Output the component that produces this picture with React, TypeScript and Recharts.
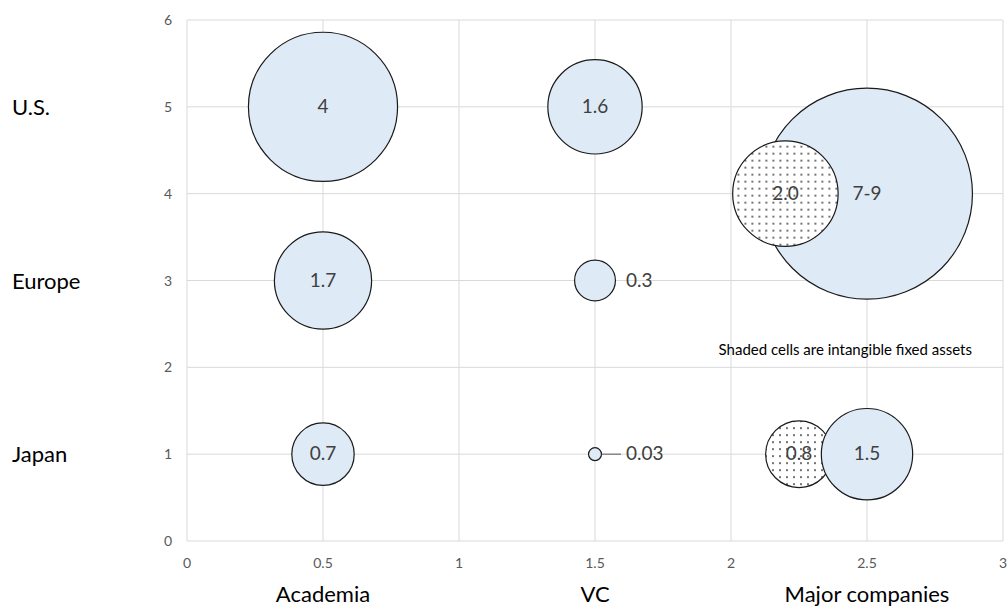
import React from "react";
import {
  ScatterChart,
  Scatter,
  XAxis,
  YAxis,
  ZAxis,
  CartesianGrid,
  LabelList,
  ReferenceDot,
} from "recharts";

const xTicks = [0, 0.5, 1, 1.5, 2, 2.5, 3];
const yTicks = [0, 1, 2, 3, 4, 5, 6];

const sectors = ["Academia", "VC", "Major companies"];
const sectorX = [0.5, 1.5, 2.5];
const regions = ["U.S.", "Europe", "Japan"];
const regionY = [5, 3, 1];

// U.S. + Europe major companies together (7-9, drawn as 8)
const combinedBubbles = [{ x: 2.5, y: 4, z: 8, label: "7-9" }];

// shaded = intangible fixed assets
const intangibleBubbles = [
  { x: 2.2, y: 4, z: 2.0, label: "2.0" },
  { x: 2.25, y: 1, z: 0.8, label: "0.8" },
];

const tangibleBubbles = [
  { x: 0.5, y: 5, z: 4, label: "4" },
  { x: 1.5, y: 5, z: 1.6, label: "1.6" },
  { x: 0.5, y: 3, z: 1.7, label: "1.7" },
  { x: 1.5, y: 3, z: 0.3, label: "0.3" },
  { x: 0.5, y: 1, z: 0.7, label: "0.7" },
  { x: 1.5, y: 1, z: 0.03, label: "0.03" },
  { x: 2.5, y: 1, z: 1.5, label: "1.5" },
];

const note = { x: 2.42, y: 2.2, text: "Shaded cells are intangible fixed assets" };

const FILL = "#deebf7";
const STROKE = "#1a1a1a";

const BubbleLabel = (props: any) => {
  const vb = props.viewBox || props;
  const { x, y, width, height } = vb;
  const cx = x + width / 2;
  const cy = y + height / 2;
  const r = width / 2;
  if (r < 25) {
    const tx = cx + 31;
    return (
      <g>
        {r < 12 && (
          <line x1={cx + r} y1={cy} x2={tx - 5} y2={cy} stroke="#595959" strokeWidth={1} />
        )}
        <text x={tx} y={cy} dy={6} fill="#404040" fontSize={19}>
          {props.value}
        </text>
      </g>
    );
  }
  return (
    <text x={cx} y={cy} dy={6} textAnchor="middle" fill="#404040" fontSize={19}>
      {props.value}
    </text>
  );
};

const YTick = ({ x, y, payload }: any) => {
  const i = regionY.indexOf(payload.value);
  return (
    <g>
      <text x={x} y={y} dy={5} textAnchor="end" fill="#595959" fontSize={14}>
        {payload.value}
      </text>
      {i >= 0 && (
        <text x={12} y={y} dy={8} fill="#000" fontSize={22}>
          {regions[i]}
        </text>
      )}
    </g>
  );
};

const XTick = ({ x, y, payload }: any) => {
  const i = sectorX.indexOf(payload.value);
  return (
    <g>
      <text x={x} y={y} dy={19} textAnchor="middle" fill="#595959" fontSize={14}>
        {payload.value}
      </text>
      {i >= 0 && (
        <text x={x} y={y} dy={53} textAnchor="middle" fill="#000" fontSize={22}>
          {sectors[i]}
        </text>
      )}
    </g>
  );
};

export default function App() {
  return (
    <div style={{ position: "absolute", left: 0, top: 0, fontFamily: "Lato, 'Open Sans', sans-serif" }}>
      <ScatterChart width={1008} height={610} margin={{ top: 20, right: 5, bottom: 0, left: 0 }}>
        <defs>
          <pattern id="dots" width="7" height="7" patternUnits="userSpaceOnUse">
            <rect width="7" height="7" fill="#fff" />
            <circle cx="2" cy="2" r="0.9" fill="#333" />
          </pattern>
        </defs>
        <CartesianGrid stroke="#d9d9d9" />
        <XAxis
          type="number"
          dataKey="x"
          domain={[0, 3]}
          ticks={xTicks}
          height={69}
          axisLine={false}
          tickLine={false}
          tick={<XTick />}
          interval={0}
        />
        <YAxis
          type="number"
          dataKey="y"
          domain={[0, 6]}
          ticks={yTicks}
          width={187}
          axisLine={false}
          tickLine={false}
          tickMargin={9}
          tick={<YTick />}
          interval={0}
        />
        <ZAxis type="number" dataKey="z" domain={[0, 8]} range={[0, 8 * 1390 * Math.PI]} />
        <Scatter data={combinedBubbles} fill={FILL} stroke={STROKE} strokeWidth={1.2} isAnimationActive={false}>
          <LabelList dataKey="label" content={<BubbleLabel />} />
        </Scatter>
        <Scatter data={intangibleBubbles} fill="url(#dots)" stroke={STROKE} strokeWidth={1.2} isAnimationActive={false}>
          <LabelList dataKey="label" content={<BubbleLabel />} />
        </Scatter>
        <Scatter data={tangibleBubbles} fill={FILL} stroke={STROKE} strokeWidth={1.2} isAnimationActive={false}>
          <LabelList dataKey="label" content={<BubbleLabel />} />
        </Scatter>
        <ReferenceDot
          x={note.x}
          y={note.y}
          r={0}
          stroke="none"
          fill="none"
          label={{ value: note.text, position: "center", fill: "#000", fontSize: 15 }}
        />
      </ScatterChart>
    </div>
  );
}
